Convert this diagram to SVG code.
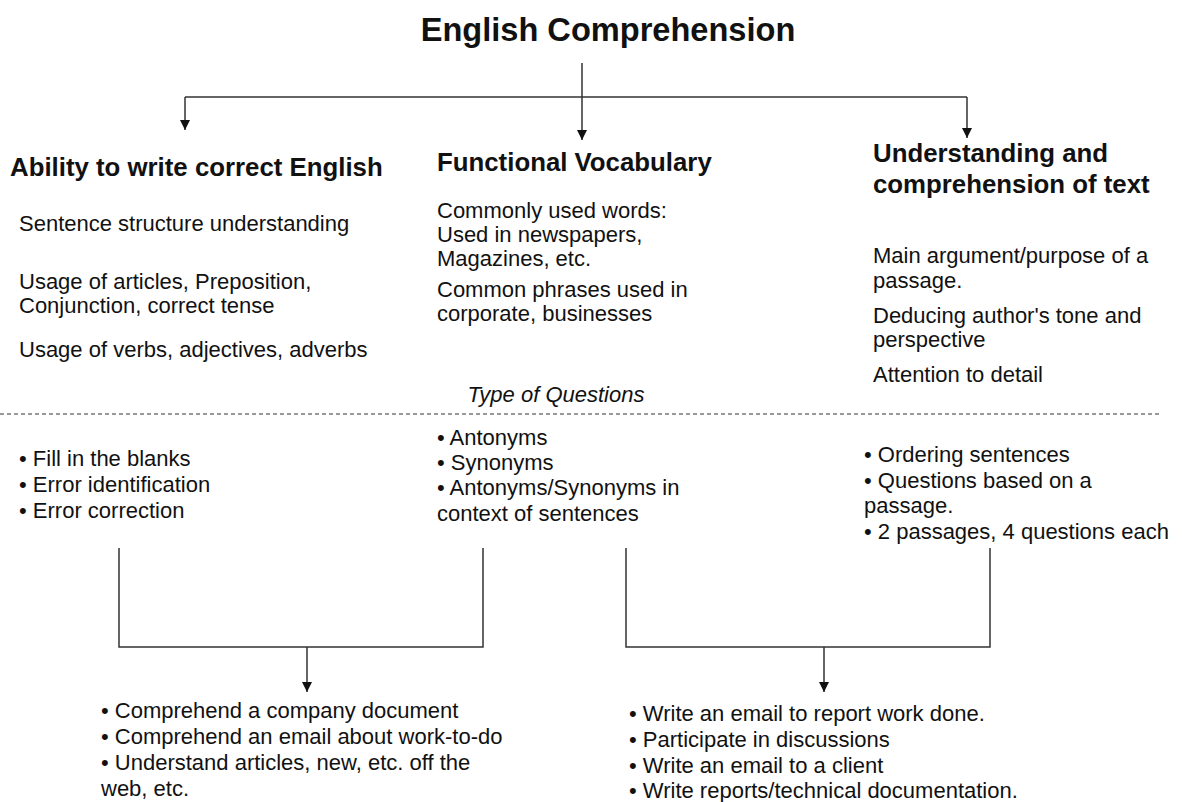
<svg xmlns="http://www.w3.org/2000/svg" width="1182" height="802" viewBox="0 0 1182 802">
<style>
  text { font-family: "Liberation Sans", Arial, sans-serif; fill: #111; }
  .title { font-size: 32.6px; font-weight: bold; }
  .head { font-size: 25.8px; font-weight: bold; }
  .body { font-size: 22px; }
  .ital { font-size: 22px; font-style: italic; }
  .ln { stroke: #333; stroke-width: 1.5; fill: none; }
  .dash { stroke: #333; stroke-width: 1.2; stroke-dasharray: 4 3; fill: none; }
</style>
<defs>
  <marker id="arrB" viewBox="0 0 10 10" refX="10" refY="5" markerWidth="10" markerHeight="10" markerUnits="userSpaceOnUse" orient="auto">
    <path d="M0,0 L10,5 L0,10 z" fill="#111"/>
  </marker>
</defs>
<rect width="1182" height="802" fill="#fff"/>

<g id="connectors">
  <line class="ln" x1="582" y1="63" x2="582" y2="140" marker-end="url(#arrB)"/>
  <line class="ln" x1="185" y1="97" x2="967" y2="97"/>
  <line class="ln" x1="185" y1="97" x2="185" y2="130" marker-end="url(#arrB)"/>
  <line class="ln" x1="967" y1="97" x2="967" y2="138" marker-end="url(#arrB)"/>
  <line class="dash" x1="0" y1="414" x2="1162" y2="414"/>
  <polyline class="ln" points="119,548 119,647 483,647 483,548"/>
  <line class="ln" x1="307" y1="647" x2="307" y2="692" marker-end="url(#arrB)"/>
  <polyline class="ln" points="626,548 626,647 990,647 990,548"/>
  <line class="ln" x1="824" y1="647" x2="824" y2="692" marker-end="url(#arrB)"/>
</g>

<g id="title">
  <text class="title" x="608" y="41" text-anchor="middle">English Comprehension</text>
</g>

<g id="ability">
  <text class="head" x="10" y="176">Ability to write correct English</text>
  <text class="body" x="19" y="231">Sentence structure understanding</text>
  <text class="body" x="19" y="289">Usage of articles, Preposition,</text>
  <text class="body" x="19" y="313">Conjunction, correct tense</text>
  <text class="body" x="19" y="357">Usage of verbs, adjectives, adverbs</text>
</g>

<g id="vocabulary">
  <text class="head" x="437" y="171">Functional Vocabulary</text>
  <text class="body" x="437" y="218">Commonly used words:</text>
  <text class="body" x="437" y="242">Used in newspapers,</text>
  <text class="body" x="437" y="266">Magazines, etc.</text>
  <text class="body" x="437" y="297">Common phrases used in</text>
  <text class="body" x="437" y="321">corporate, businesses</text>
</g>

<g id="understanding">
  <text class="head" x="873" y="162">Understanding and</text>
  <text class="head" x="873" y="193">comprehension of text</text>
  <text class="body" x="873" y="263">Main argument/purpose of a</text>
  <text class="body" x="873" y="288">passage.</text>
  <text class="body" x="873" y="323">Deducing author's tone and</text>
  <text class="body" x="873" y="347">perspective</text>
  <text class="body" x="873" y="382">Attention to detail</text>
</g>

<g id="type-label">
  <text class="ital" x="556" y="402" text-anchor="middle">Type of Questions</text>
</g>

<g id="q-ability">
  <text class="body" x="19" y="466">• Fill in the blanks</text>
  <text class="body" x="19" y="492">• Error identification</text>
  <text class="body" x="19" y="518">• Error correction</text>
</g>

<g id="q-vocabulary">
  <text class="body" x="437" y="445">• Antonyms</text>
  <text class="body" x="437" y="470">• Synonyms</text>
  <text class="body" x="437" y="495">• Antonyms/Synonyms in</text>
  <text class="body" x="437" y="521">context of sentences</text>
</g>

<g id="q-understanding">
  <text class="body" x="864" y="462">• Ordering sentences</text>
  <text class="body" x="864" y="488">• Questions based on a</text>
  <text class="body" x="864" y="513">passage.</text>
  <text class="body" x="864" y="539">• 2 passages, 4 questions each</text>
</g>

<g id="outcome-left">
  <text class="body" x="101" y="718">• Comprehend a company document</text>
  <text class="body" x="101" y="744">• Comprehend an email about work-to-do</text>
  <text class="body" x="101" y="770">• Understand articles, new, etc. off the</text>
  <text class="body" x="101" y="796">web, etc.</text>
</g>

<g id="outcome-right">
  <text class="body" x="629" y="721">• Write an email to report work done.</text>
  <text class="body" x="629" y="747">• Participate in discussions</text>
  <text class="body" x="629" y="773">• Write an email to a client</text>
  <text class="body" x="629" y="798">• Write reports/technical documentation.</text>
</g>
</svg>
